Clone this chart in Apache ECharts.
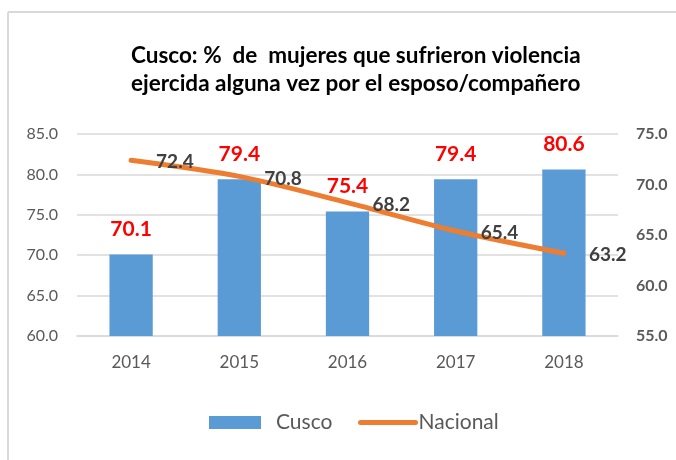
<!DOCTYPE html>
<html>
<head>
<meta charset="utf-8">
<script src="https://cdn.jsdelivr.net/npm/echarts@6/dist/echarts.min.js"></script>
<style>
  html, body { margin: 0; padding: 0; background: #fff; }
  #chart { width: 676px; height: 460px; }
</style>
</head>
<body>
<div id="chart"></div>
<script>
const years = ['2014', '2015', '2016', '2017', '2018']
const cusco = [70.1, 79.4, 75.4, 79.4, 80.6]
const nacional = [72.4, 70.8, 68.2, 65.4, 63.2]

const font = 'Lato, "Open Sans", sans-serif'
const chart = echarts.init(document.getElementById('chart'))

chart.setOption({
  animation: false,
  textStyle: { fontFamily: font },
  title: {
    text: 'Cusco: %  de  mujeres que sufrieron violencia\nejercida alguna vez por el esposo/compañero',
    left: 126,
    top: 37,
    textAlign: 'left',
    textStyle: { fontSize: 22.5, fontWeight: 'bold', color: '#000', lineHeight: 28, fontFamily: font, align: 'center' }
  },
  graphic: [
    { type: 'line', shape: { x1: 8, y1: 12, x2: 8, y2: 460 }, style: { stroke: '#d9d9d9', lineWidth: 2 } },
    { type: 'line', shape: { x1: 8, y1: 12, x2: 676, y2: 12 }, style: { stroke: '#d9d9d9', lineWidth: 2 } }
  ],
  grid: { left: 77, right: 58, top: 134, bottom: 124 },
  legend: [
    {
      data: ['Cusco'],
      left: 204,
      top: 407,
      icon: 'rect',
      itemWidth: 52,
      itemHeight: 13,
      textStyle: { fontSize: 21, color: '#595959', padding: [0, 0, 0, 10] }
    },
    {
      data: ['Nacional'],
      left: 353,
      top: 407,
      itemWidth: 55,
      itemHeight: 13,
      itemStyle: { color: 'transparent', borderColor: 'transparent', borderWidth: 0 },
      lineStyle: { width: 5, color: '#ed7d31', cap: 'round' },
      textStyle: { fontSize: 21, color: '#595959', padding: [0, 0, 0, -2] }
    }
  ],
  xAxis: {
    type: 'category',
    data: years,
    axisLine: { lineStyle: { color: '#d9d9d9', width: 1.5 } },
    axisTick: { show: false },
    axisLabel: { fontSize: 17, color: '#595959', margin: 18 }
  },
  yAxis: [
    {
      type: 'value',
      min: 60,
      max: 85,
      interval: 5,
      axisLabel: { fontSize: 16, color: '#595959', margin: 19, formatter: v => v.toFixed(1) },
      splitLine: { lineStyle: { color: '#d9d9d9', width: 1.5 } },
      axisLine: { show: false },
      axisTick: { show: false }
    },
    {
      type: 'value',
      min: 55,
      max: 75,
      interval: 5,
      position: 'right',
      axisLabel: { fontSize: 16, color: '#595959', fontWeight: 'bold', margin: 18, formatter: v => v.toFixed(1) },
      splitLine: { show: false },
      axisLine: { show: false },
      axisTick: { show: false }
    }
  ],
  series: [
    {
      name: 'Cusco',
      type: 'bar',
      data: cusco,
      barWidth: '40%',
      itemStyle: { color: '#5b9bd5' },
      label: {
        show: true,
        position: 'top',
        distance: 15,
        color: '#ff0000',
        fontWeight: 'bold',
        fontSize: 21,
        formatter: p => p.value.toFixed(1)
      }
    },
    {
      name: 'Nacional',
      type: 'line',
      yAxisIndex: 1,
      data: nacional,
      smooth: 0.3,
      symbol: 'circle',
      symbolSize: 2,
      showSymbol: true,
      lineStyle: { color: '#ed7d31', width: 5, cap: 'round' },
      itemStyle: { color: '#ed7d31', borderWidth: 0 },
      label: {
        show: true,
        position: 'right',
        distance: 24,
        offset: [0, 2],
        color: '#404040',
        fontWeight: 'bold',
        fontSize: 19,
        formatter: p => p.value.toFixed(1)
      }
    }
  ]
})
</script>
</body>
</html>
